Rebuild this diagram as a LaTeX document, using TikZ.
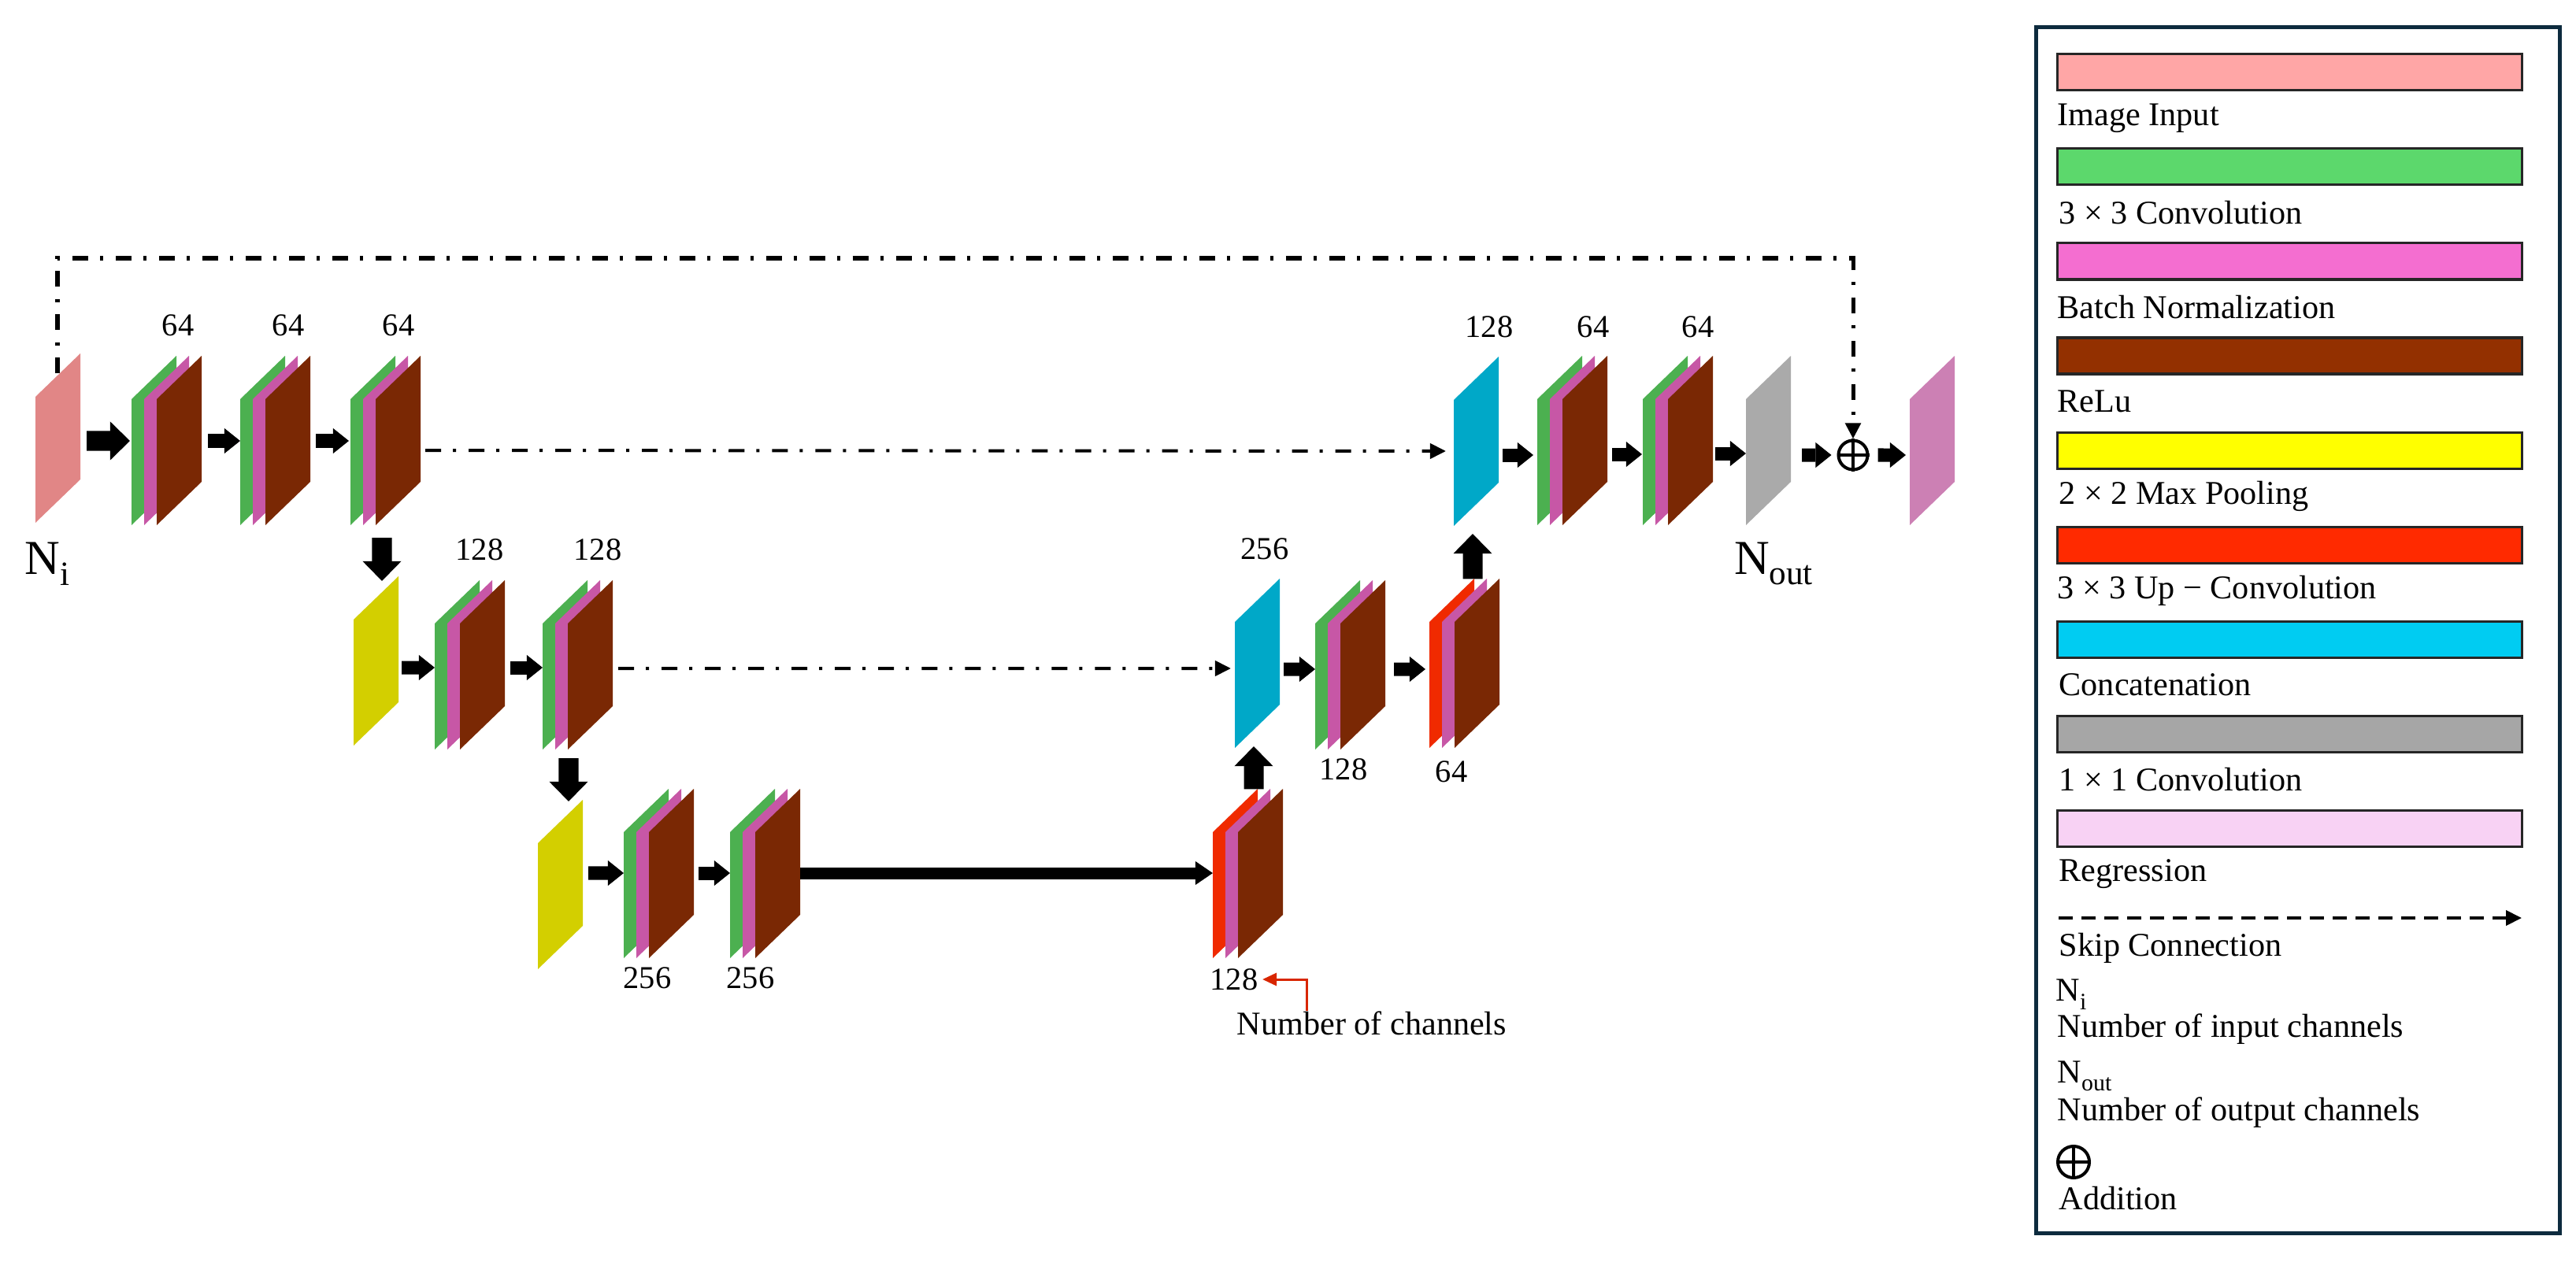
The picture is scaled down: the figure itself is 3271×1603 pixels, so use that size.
\documentclass[tikz,border=0pt]{standalone}
\usepackage{fontspec}
\setmainfont{Liberation Serif}
\usetikzlibrary{arrows.meta}
\definecolor{inpk}{HTML}{E18686}
\definecolor{gr}{HTML}{4CB050}
\definecolor{mg}{HTML}{C757A6}
\definecolor{br}{HTML}{7A2804}
\definecolor{yel}{HTML}{D3CF00}
\definecolor{rd}{HTML}{F02A00}
\definecolor{cy}{HTML}{00A8C8}
\definecolor{gyc}{HTML}{AAAAAA}
\definecolor{outpk}{HTML}{CC80B4}
\definecolor{Lpk}{HTML}{FFA6A6}
\definecolor{Lgr}{HTML}{5CD86C}
\definecolor{Lmg}{HTML}{F46ED0}
\definecolor{Lbr}{HTML}{933000}
\definecolor{Lyl}{HTML}{FFFF00}
\definecolor{Lrd}{HTML}{FF2A00}
\definecolor{Lcy}{HTML}{00CCF2}
\definecolor{Lgy}{HTML}{A6A6A6}
\definecolor{Llp}{HTML}{F8D2F4}
\definecolor{frm}{HTML}{0D2B3E}
\newcommand\mylayer[3]{\fill[#3] (#1,#2-53) -- ++(57,-55) -- ++(0,160) -- ++(-57,55) -- cycle;}
\newcommand\myblock[4]{\mylayer{#2}{#3}{#4}\mylayer{#2+16}{#3}{mg}\mylayer{#2+32}{#3}{br}%
  \node[hold, minimum width=0.89cm] (#1) at (#2+44.5,#3) {};}
\newcommand\mysingle[4]{\mylayer{#2}{#3}{#4}\node[hold, minimum width=0.57cm] (#1) at (#2+28.5,#3) {};}
\begin{document}
\begin{tikzpicture}[x=0.01cm,y=-0.01cm,
  hold/.style={inner sep=0pt, outer sep=0pt, minimum height=2.15cm},
  num/.style={font=\fontsize{11.5pt}{12pt}\selectfont, inner sep=0pt},
  lg/.style={font=\fontsize{12pt}{13pt}\selectfont, anchor=west, inner sep=0pt},
  bigN/.style={font=\fontsize{17.6pt}{18pt}\selectfont, inner sep=0pt},
  barrow/.style={line width=0.17cm, -{Triangle[length=0.2cm,width=0.32cm,line width=0pt]}},
  bigarrow/.style={line width=0.25cm, -{Triangle[length=0.25cm,width=0.49cm,line width=0pt]}},
  skipline/.style={line width=0.04cm, dash pattern=on 0.2cm off 0.15cm on 0.04cm off 0.16cm,
    -{Triangle[length=0.2cm,width=0.19cm]}},
  bar/.style={draw=black!85, line width=0.03cm},
  plusc/.style={circle, draw, line width=0.04cm, inner sep=0pt}
]
\fill[white] (0,0) rectangle (3271,1603);
\useasboundingbox (0,0) rectangle (3271,1603);

% ---- row 1 left
\mysingle{in}{45}{557}{inpk}
\myblock{e1}{167}{560}{gr}
\myblock{e2}{305}{560}{gr}
\myblock{e3}{445}{560}{gr}
% ---- row 2 left
\mysingle{ya}{449}{840}{yel}
\myblock{f1}{552}{845}{gr}
\myblock{f2}{689}{845}{gr}
% ---- row 3
\mysingle{yb}{683}{1124}{yel}
\myblock{g1}{792}{1110}{gr}
\myblock{g2}{927}{1110}{gr}
\myblock{r3}{1540}{1110}{rd}
% ---- row 2 right
\mysingle{c2}{1568}{843}{cy}
\myblock{f3}{1670}{845}{gr}
\myblock{r2}{1815}{843}{rd}
% ---- row 1 right
\mysingle{c1}{1846}{561}{cy}
\myblock{h1}{1952}{560}{gr}
\myblock{h2}{2086}{560}{gr}
\mysingle{gy}{2217}{560}{gyc}
\mysingle{out}{2425}{560}{outpk}
\node[plusc, minimum size=0.37cm] (plus) at (2353,578) {};
\draw[line width=0.04cm] (plus.north) -- (plus.south) (plus.west) -- (plus.east);

% ---- channel labels
\node[num] (l1) at (226,413) {64};
\node[num] (l2) at (366,413) {64};
\node[num] (l3) at (506,413) {64};
\node[num] (l4) at (609,698) {128};
\node[num] (l5) at (759,698) {128};
\node[num] (l6) at (822,1242) {256};
\node[num] (l7) at (953,1242) {256};
\node[num] (l8) at (1567,1244) {128};
\node[num] (l9) at (1606,697) {256};
\node[num] (l10) at (1706,977) {128};
\node[num] (l11) at (1843,980) {64};
\node[num] (l12) at (1891,415) {128};
\node[num] (l13) at (2023,415) {64};
\node[num] (l14) at (2156,415) {64};
\node[bigN] (ni) at (60,716) {N\raisebox{-0.22em}{\fontsize{12.3pt}{12pt}\selectfont i}};
\node[bigN] (nout) at (2252,716) {N\raisebox{-0.22em}{\fontsize{12.3pt}{12pt}\selectfont out}};
\node[lg, anchor=center] (noc) at (1742,1300) {Number of channels};
\draw[rd!90!black, line width=0.03cm, -{Triangle[length=0.18cm,width=0.16cm]}]
  (noc.north -| 1659,0) |- ([xshift=0.05cm]l8.east);

% ---- block arrows
\draw[bigarrow, shorten <=0.08cm, shorten >=0.02cm] ([yshift=-0.03cm]in.east) -- (e1.west);
\draw[barrow, shorten <=0.08cm] (e1.east) -- (e2.west);
\draw[barrow, shorten <=0.07cm, shorten >=0.02cm] (e2.east) -- (e3.west);
\draw[bigarrow] ([xshift=-0.045cm,yshift=-0.155cm]e3.south) -- ([xshift=0.075cm,yshift=-0.055cm]ya.north);
\draw[barrow, shorten <=0.04cm] ([yshift=-0.08cm]ya.east) -- ([yshift=-0.03cm]f1.west);
\draw[barrow, shorten <=0.07cm] ([yshift=-0.03cm]f1.east) -- ([yshift=-0.03cm]f2.west);
\draw[bigarrow] ([xshift=-0.115cm,yshift=-0.105cm]f2.south) -- ([xshift=0.105cm,yshift=-0.015cm]yb.north);
\draw[barrow, shorten <=0.07cm] ([yshift=0.15cm]yb.east) -- ([yshift=0.01cm]g1.west);
\draw[barrow, shorten <=0.06cm] ([yshift=0.01cm]g1.east) -- ([yshift=0.01cm]g2.west);
\draw[line width=0.15cm, -{Triangle[length=0.22cm,width=0.3cm,line width=0pt]}] ([yshift=0.01cm]g2.east) -- ([yshift=0.01cm]r3.west);
\draw[bigarrow] ([xshift=0.075cm]r3.north) -- ([xshift=-0.045cm,yshift=0.025cm]c2.south);
\draw[barrow, shorten <=0.05cm] ([yshift=-0.07cm]c2.east) -- ([yshift=-0.05cm]f3.west);
\draw[barrow, shorten <=0.11cm, shorten >=0.05cm] ([yshift=-0.05cm]f3.east) -- ([yshift=-0.07cm]r2.west);
\draw[bigarrow] ([xshift=0.105cm]r2.north) -- ([xshift=-0.045cm,yshift=-0.095cm]c1.south);
\draw[barrow, shorten <=0.05cm, shorten >=0.05cm] ([yshift=-0.17cm]c1.east) -- ([yshift=-0.18cm]h1.west);
\draw[barrow, shorten <=0.06cm, shorten >=0.01cm] ([yshift=-0.17cm]h1.east) -- ([yshift=-0.17cm]h2.west);
\draw[barrow, shorten <=0.03cm] ([yshift=-0.16cm]h2.east) -- ([yshift=-0.16cm]gy.west);
\draw[barrow, shorten <=0.14cm, shorten >=0.07cm] ([yshift=-0.18cm]gy.east) -- (plus.west);
\draw[barrow, shorten <=0.11cm, shorten >=0.05cm] (plus.east) -- ([yshift=-0.18cm]out.west);

% ---- skip connections
\coordinate (s0) at (73,474);
\draw[skipline, line width=0.05cm] (s0) -- ++(0,-146) -| (plus.north);
\draw[skipline, shorten <=0.06cm, shorten >=0.1cm] ([yshift=-0.12cm]e3.east) -- ([yshift=-0.12cm]c1.west);
\draw[skipline, shorten <=0.07cm, shorten >=0.05cm] ([yshift=-0.04cm]f2.east) -- ([yshift=-0.06cm]c2.west);

% ---- legend
\draw[frm, line width=0.05cm] (2585,35) rectangle (3250,1566);
\draw[bar, fill=Lpk] (2612,69) rectangle ++(590,46);
\draw[bar, fill=Lgr] (2612,189) rectangle ++(590,46);
\draw[bar, fill=Lmg] (2612,309) rectangle ++(590,46);
\draw[bar, fill=Lbr] (2612,429) rectangle ++(590,46);
\draw[bar, fill=Lyl] (2612,549) rectangle ++(590,46);
\draw[bar, fill=Lrd] (2612,669) rectangle ++(590,46);
\draw[bar, fill=Lcy] (2612,789) rectangle ++(590,46);
\draw[bar, fill=Lgy] (2612,909) rectangle ++(590,46);
\draw[bar, fill=Llp] (2612,1029) rectangle ++(590,46);
\node[lg] (t1) at (2612,150) {Image Input};
\node[lg] (t2) at (2614,270) {3 × 3 Convolution};
\node[lg] (t3) at (2612,390) {Batch Normalization};
\node[lg] (t4) at (2612,510) {ReLu};
\node[lg] (t5) at (2614,630) {2 × 2 Max Pooling};
\node[lg] (t6) at (2612,750) {3 × 3 Up − Convolution};
\node[lg] (t7) at (2614,870) {Concatenation};
\node[lg] (t8) at (2614,990) {1 × 1 Convolution};
\node[lg] (t9) at (2614,1110) {Regression};
\coordinate (d0) at (2614,1166);
\coordinate (d1) at (3202,1166);
\draw[line width=0.04cm, dash pattern=on 0.18cm off 0.11cm, -{Triangle[length=0.2cm,width=0.19cm]}] (d0) -- (d1);
\node[lg] (t10) at (2614,1204) {Skip Connection};
\node[lg] (t11) at (2610,1263) {N\raisebox{-0.25em}{\fontsize{8.5pt}{9pt}\selectfont i}};
\node[lg] (t12) at (2612,1307) {Number of input channels};
\node[lg] (t13) at (2612,1367) {N\raisebox{-0.25em}{\fontsize{8.5pt}{9pt}\selectfont out}};
\node[lg] (t14) at (2612,1413) {Number of output channels};
\node[plusc, minimum size=0.4cm] (lplus) at (2633,1476) {};
\draw[line width=0.04cm] (lplus.north) -- (lplus.south) (lplus.west) -- (lplus.east);
\node[lg] (t15) at (2614,1522) {Addition};
\end{tikzpicture}
\end{document}
